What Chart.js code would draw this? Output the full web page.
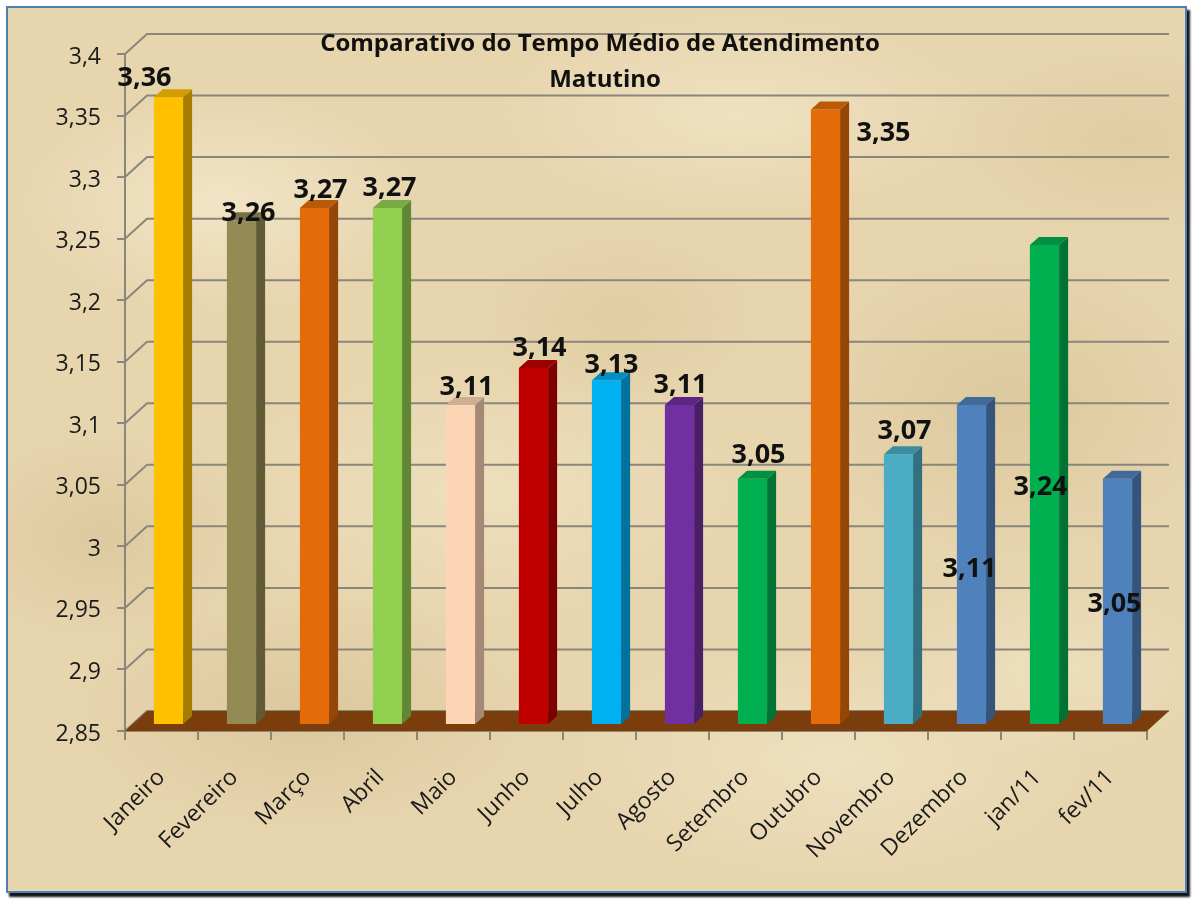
<!DOCTYPE html>
<html>
<head>
<meta charset="utf-8">
<script src="https://cdn.jsdelivr.net/npm/chart.js@4"></script>
<style>
  body { margin: 0; background: #fff; width: 1193px; height: 900px; overflow: hidden; }
  .frame {
    position: absolute; left: 6px; top: 6px; width: 1177px; height: 883px;
    border: 2px solid #4f7fba;
    box-shadow: 3px 4px 2px #141414;
    background-color: #e7d5ae;
    background-image:
      radial-gradient(ellipse 200px 110px at 18% 22%, rgba(248,238,214,0.6), transparent),
      radial-gradient(ellipse 240px 100px at 62% 12%, rgba(246,235,208,0.55), transparent),
      radial-gradient(ellipse 220px 160px at 85% 45%, rgba(210,186,138,0.45), transparent),
      radial-gradient(ellipse 260px 130px at 40% 55%, rgba(244,232,204,0.5), transparent),
      radial-gradient(ellipse 240px 120px at 25% 80%, rgba(208,184,136,0.45), transparent),
      radial-gradient(ellipse 260px 120px at 70% 85%, rgba(245,234,208,0.5), transparent),
      radial-gradient(ellipse 160px 110px at 8% 60%, rgba(212,190,144,0.5), transparent),
      radial-gradient(ellipse 180px 100px at 95% 15%, rgba(216,194,148,0.45), transparent),
      radial-gradient(ellipse 150px 90px at 52% 35%, rgba(214,192,146,0.4), transparent),
      radial-gradient(ellipse 170px 90px at 88% 75%, rgba(243,232,205,0.5), transparent);
  }
  canvas { position: absolute; left: 0; top: 0; }
</style>
</head>
<body>
<div class="frame"></div>
<canvas id="tempoChart" width="1193" height="900"></canvas>
<script>
const categories = ['Janeiro', 'Fevereiro', 'Março', 'Abril', 'Maio', 'Junho', 'Julho', 'Agosto',
  'Setembro', 'Outubro', 'Novembro', 'Dezembro', 'jan/11', 'fev/11']
const tempoMedio = [3.36, 3.26, 3.27, 3.27, 3.11, 3.14, 3.13, 3.11, 3.05, 3.35, 3.07, 3.11, 3.24, 3.05]
const yTickValues = [2.85, 2.9, 2.95, 3, 3.05, 3.1, 3.15, 3.2, 3.25, 3.3, 3.35, 3.4]
const titleLines = ['Comparativo do Tempo Médio de Atendimento', 'Matutino']

const barColors = ['#ffc000', '#948a54', '#e36c09', '#92d050', '#fcd5b5', '#c00000', '#00b0f0',
  '#7030a0', '#00b050', '#e36c09', '#4bacc6', '#4f81bd', '#00b050', '#4f81bd']

// where each value label sits, relative to the top of its bar
const labelShift = [[-24, -19], [7, -7], [6, -18], [2, -20], [6, -18], [6, -20], [5, -15],
  [1, -20], [6, -24], [58, 24], [6, -23], [-2, 164], [-4, 242], [-3, 125]]

const wallDX = 22, wallDY = 20   // depth of the back wall
const barDX = 7, barDY = 6       // bars stand mid-depth on the floor
const faceDX = 9, faceDY = 8     // bar side/top depth

function shade(hex, f) {
  const n = parseInt(hex.slice(1), 16)
  const r = Math.round(((n >> 16) & 255) * f)
  const g = Math.round(((n >> 8) & 255) * f)
  const b = Math.round((n & 255) * f)
  return `rgb(${r},${g},${b})`
}

function poly(ctx, pts, fill) {
  ctx.beginPath()
  ctx.moveTo(pts[0][0], pts[0][1])
  pts.slice(1).forEach(p => ctx.lineTo(p[0], p[1]))
  ctx.closePath()
  ctx.fillStyle = fill
  ctx.fill()
}

const fmt = v => String(Number(v.toFixed(2))).replace('.', ',')

const bars3d = {
  id: 'bars3d',
  beforeDatasetsDraw(chart) {
    const { ctx, chartArea: a, scales: { y } } = chart
    ctx.save()
    ctx.strokeStyle = '#8b867c'
    ctx.lineWidth = 2
    yTickValues.forEach(v => {
      const py = y.getPixelForValue(v)
      ctx.beginPath()
      ctx.moveTo(a.left, py)
      ctx.lineTo(a.left + wallDX, py - wallDY)
      ctx.lineTo(a.right + wallDX, py - wallDY)
      ctx.stroke()
    })
    // floor
    const b = a.bottom
    poly(ctx, [[a.left, b], [a.left + wallDX, b - wallDY], [a.right + wallDX, b - wallDY], [a.right, b]], '#7b3d0b')
    ctx.restore()
    ctx.save()
    ctx.translate(barDX, -barDY)
  },
  afterDatasetsDraw(chart) {
    const ctx = chart.ctx
    const bottom = chart.chartArea.bottom
    chart.getDatasetMeta(0).data.forEach((bar, i) => {
      const { x, y, width } = bar.getProps(['x', 'y', 'width'], true)
      const base = Math.min(bar.base, bottom)
      const l = x - width / 2, r = x + width / 2
      poly(ctx, [[r, y], [r + faceDX, y - faceDY], [r + faceDX, base - faceDY], [r, base]], shade(barColors[i], 0.65))
      poly(ctx, [[l, y], [l + faceDX, y - faceDY], [r + faceDX, y - faceDY], [r, y]], shade(barColors[i], 0.82))
    })
    ctx.restore()
  },
  afterDraw(chart) {
    const ctx = chart.ctx
    ctx.save()
    ctx.fillStyle = '#111'
    ctx.textAlign = 'center'
    ctx.textBaseline = 'middle'
    ctx.font = 'bold 27px "Open Sans"'
    chart.getDatasetMeta(0).data.forEach((bar, i) => {
      const s = labelShift[i]
      ctx.fillText(fmt(tempoMedio[i]), bar.x + barDX + s[0], bar.y - barDY + s[1])
    })
    ctx.font = 'bold 24px "Open Sans"'
    ctx.fillText(titleLines[0], 600, 44)
    ctx.fillText(titleLines[1], 605, 80)
    ctx.restore()
  }
}

const ctx = document.getElementById('tempoChart')
new Chart(ctx, {
  type: 'bar',
  data: {
    labels: categories,
    datasets: [{
      data: tempoMedio,
      base: 2.85,
      backgroundColor: barColors,
      borderWidth: 0,
      barPercentage: 0.4,
      categoryPercentage: 1
    }]
  },
  options: {
    responsive: false,
    animation: false,
    layout: { padding: { top: 54, right: 46, left: 0, bottom: 0 } },
    plugins: { legend: { display: false }, tooltip: { enabled: false } },
    scales: {
      x: {
        afterFit: s => { s.height = 169 },
        border: { color: '#8b867c', width: 2 },
        grid: { drawOnChartArea: false, drawTicks: true, tickLength: 9, color: '#8b867c', lineWidth: 2 },
        ticks: {
          minRotation: 45, maxRotation: 45, padding: 24,
          color: '#1a1a1a', font: { family: 'Open Sans', size: 23 }
        }
      },
      y: {
        min: 2.85,
        max: 3.4,
        afterFit: s => { s.width = 125 },
        afterBuildTicks: s => { s.ticks = yTickValues.map(v => ({ value: v })) },
        border: { color: '#8b867c', width: 2 },
        grid: { drawOnChartArea: false, drawTicks: true, tickLength: 8, color: '#8b867c', lineWidth: 2 },
        ticks: {
          padding: 16, labelOffset: 3,
          color: '#1a1a1a', font: { family: 'Open Sans', size: 23 },
          callback: v => fmt(v)
        }
      }
    }
  },
  plugins: [bars3d]
})
</script>
</body>
</html>
